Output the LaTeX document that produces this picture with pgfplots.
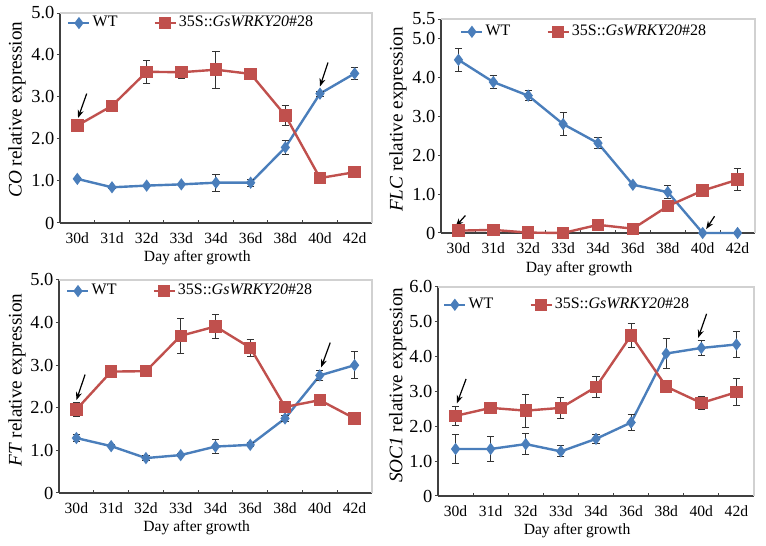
\documentclass[border=0pt]{standalone}
\usepackage{pgfplots}
\pgfplotsset{compat=1.18}
\usepackage{fontspec}
\setmainfont{Liberation Serif}
\usetikzlibrary{arrows.meta}
\definecolor{wtblue}{RGB}{74,126,187}
\definecolor{tgred}{RGB}{192,80,77}
\pgfplotsset{
  panel/.style={
    anchor=south west, scale only axis,
    xmin=-0.5, xmax=8.5, ymin=0,
    axis x line*=bottom, axis y line*=left,
    axis line style={-, black!75, line width=0.6pt},
    xtick={0,...,8},
    xticklabels={30d,31d,32d,33d,34d,36d,38d,40d,42d},
    major x tick style={draw=none},
    minor xtick={0.5,1.5,...,7.5},
    minor x tick style={black!75, line width=0.5pt},
    minor tick length=1.6pt,
    major tick length=1.6pt,
    xtick align=inside, ytick align=outside,
    major y tick style={black!75, line width=0.5pt},
    xticklabel style={font=\fontsize{7.8}{8}\selectfont, yshift=-1.5pt},
    yticklabel style={font=\fontsize{9.2}{10}\selectfont, inner sep=1pt},
    xlabel={Day after growth},
    xlabel style={font=\fontsize{7.8}{8}\selectfont, at={(axis description cs:0.44,-0.165)}, anchor=center},
    ylabel style={font=\fontsize{9.6}{10}\selectfont, anchor=center},
    legend columns=2,
    legend style={draw=none, fill=none, anchor=west, inner sep=0pt,
      font=\fontsize{8}{9}\selectfont,
      nodes={inner sep=1pt},
      /tikz/every even column/.append style={column sep=17pt}},
    legend image code/.code={\draw[##1,mark repeat=2,mark phase=2] plot coordinates {(0pt,0pt) (5.25pt,0pt) (10.5pt,0pt)};},
    clip=false,
  },
  eb/.style={error bars/y dir=both, error bars/y explicit,
    error bars/error bar style={black!80, line width=0.5pt},
    error bars/error mark options={rotate=90, mark size=1.8pt, black!80, line width=0.5pt}},
  wt/.style={eb, color=wtblue, line width=1.2pt, mark=diamond*, mark size=2.1pt, mark options={fill=wtblue, solid}},
  tg/.style={eb, color=tgred, line width=1.2pt, mark=square*, mark size=2.5pt, mark options={fill=tgred, solid}},
}
\newcommand{\frametr}{\draw[black!18, line width=0.6pt] (rel axis cs:0,1) -- (rel axis cs:1,1) -- (rel axis cs:1,0);}
\tikzset{annarrow/.style={-{Stealth[length=4pt,width=3pt]}, line width=0.6pt, black}}
\begin{document}
\begin{tikzpicture}
\useasboundingbox (0,0) rectangle (383pt,273pt);
% ---------- CO ----------
\begin{axis}[panel, at={(30pt,161.5pt)}, width=156pt, height=105pt,
  ymax=5, ytick={0,1,2,3,4,5}, yticklabels={0,1.0,2.0,3.0,4.0,5.0},
  ylabel={\textit{CO} relative expression},
  ylabel style={at={(axis description cs:-0.138,0.54)}},
  legend style={at={(axis description cs:0.022,0.952)}}]
\frametr
\addplot[wt] coordinates {(0,1.05) +- (0,0.03) (1,0.85) +- (0,0.03) (2,0.89) +- (0,0.02) (3,0.92) +- (0,0.02) (4,0.96) +- (0,0.2) (5,0.96) +- (0,0.08) (6,1.80) +- (0,0.17) (7,3.08) +- (0,0.06) (8,3.56) +- (0,0.14)};
\addlegendentry{WT}
\addplot[tg] coordinates {(0,2.32) +- (0,0.06) (1,2.79) +- (0,0.05) (2,3.60) +- (0,0.27) (3,3.59) +- (0,0.14) (4,3.65) +- (0,0.44) (5,3.55) +- (0,0.08) (6,2.56) +- (0,0.24) (7,1.07) +- (0,0.02) (8,1.21) +- (0,0.02)};
\addlegendentry{35S::\textit{GsWRKY20}\#28}
\draw[annarrow] (axis cs:0.27,3.08) -- (axis cs:0.02,2.5);
\draw[annarrow] (axis cs:7.23,3.82) -- (axis cs:7.0,3.25);
\end{axis}
% ---------- FLC ----------
\begin{axis}[panel, at={(220.5pt,156.5pt)}, width=157pt, height=107pt,
  ymax=5.5, ytick={0,1,2,3,4,5,5.5}, yticklabels={0,1.0,2.0,3.0,4.0,5.0,5.5},
  ylabel={\textit{FLC} relative expression},
  ylabel style={at={(axis description cs:-0.137,0.53)}},
  legend style={at={(axis description cs:0.06,0.94)}}]
\frametr
\addplot[color=wtblue, line width=1.2pt, mark=diamond*, mark size=2.1pt, mark options={fill=wtblue, solid}] coordinates {(0,4.45) (1,3.88) (2,3.53) (3,2.80) (4,2.31) (5,1.24) (6,1.05) (7,0.0) (8,0.0)};
\addlegendentry{WT}
\addplot[color=tgred, line width=1.2pt, mark=square*, mark size=2.5pt, mark options={fill=tgred, solid}] coordinates {(0,0.06) (1,0.08) (2,0.01) (3,0.0) (4,0.21) (5,0.11) (6,0.69) (7,1.09) (8,1.37)};
\addlegendentry{35S::\textit{GsWRKY20}\#28}
\addplot[eb, draw=none, mark=none, forget plot] coordinates {(0,4.45) +- (0,0.3) (1,3.88) +- (0,0.17) (2,3.53) +- (0,0.13) (3,2.80) +- (0,0.29) (4,2.31) +- (0,0.15) (6,1.05) +- (0,0.17) (8,1.37) +- (0,0.29)};
\draw[annarrow] (axis cs:0.2,0.45) -- (axis cs:-0.08,0.17);
\draw[annarrow] (axis cs:7.34,0.43) -- (axis cs:7.1,0.1);
\end{axis}
% ---------- FT ----------
\begin{axis}[panel, at={(29.5pt,26.5pt)}, width=156.5pt, height=106.5pt,
  ymax=5, ytick={0,1,2,3,4,5}, yticklabels={0,1.0,2.0,3.0,4.0,5.0},
  ylabel={\textit{FT} relative expression},
  ylabel style={at={(axis description cs:-0.134,0.53)}},
  legend style={at={(axis description cs:0.022,0.948)}}]
\frametr
\addplot[wt] coordinates {(0,1.29) +- (0,0.08) (1,1.10) +- (0,0.04) (2,0.82) +- (0,0.06) (3,0.89) +- (0,0.03) (4,1.09) +- (0,0.17) (5,1.13) +- (0,0.05) (6,1.75) +- (0,0.08) (7,2.76) +- (0,0.12) (8,3.0) +- (0,0.31)};
\addlegendentry{WT}
\addplot[tg] coordinates {(0,1.96) +- (0,0.17) (1,2.85) +- (0,0.03) (2,2.86) +- (0,0.03) (3,3.69) +- (0,0.41) (4,3.91) +- (0,0.28) (5,3.41) +- (0,0.2) (6,2.02) +- (0,0.05) (7,2.18) +- (0,0.03) (8,1.75) +- (0,0.08)};
\addlegendentry{35S::\textit{GsWRKY20}\#28}
\draw[annarrow] (axis cs:0.25,2.78) -- (axis cs:0.0,2.18);
\draw[annarrow] (axis cs:7.3,3.53) -- (axis cs:7.04,2.95);
\end{axis}
% ---------- SOC1 ----------
\begin{axis}[panel, at={(219pt,25pt)}, width=158pt, height=104.5pt,
  ymax=6, ytick={0,1,2,3,4,5,6}, yticklabels={0,1.0,2.0,3.0,4.0,5.0,6.0},
  ylabel={\textit{SOC1} relative expression},
  ylabel style={at={(axis description cs:-0.127,0.53)}},
  legend style={at={(axis description cs:0.015,0.915)}}]
\frametr
\addplot[wt] coordinates {(0,1.35) +- (0,0.41) (1,1.35) +- (0,0.37) (2,1.49) +- (0,0.3) (3,1.28) +- (0,0.16) (4,1.64) +- (0,0.13) (5,2.11) +- (0,0.23) (6,4.09) +- (0,0.43) (7,4.25) +- (0,0.21) (8,4.35) +- (0,0.38)};
\addlegendentry{WT}
\addplot[tg] coordinates {(0,2.30) +- (0,0.27) (1,2.53) +- (0,0.14) (2,2.45) +- (0,0.47) (3,2.53) +- (0,0.3) (4,3.13) +- (0,0.3) (5,4.61) +- (0,0.34) (6,3.14) +- (0,0.18) (7,2.67) +- (0,0.19) (8,2.98) +- (0,0.38)};
\addlegendentry{35S::\textit{GsWRKY20}\#28}
\draw[annarrow] (axis cs:0.3,3.36) -- (axis cs:0.04,2.66);
\draw[annarrow] (axis cs:7.15,5.23) -- (axis cs:6.91,4.54);
\end{axis}
\end{tikzpicture}
\end{document}
